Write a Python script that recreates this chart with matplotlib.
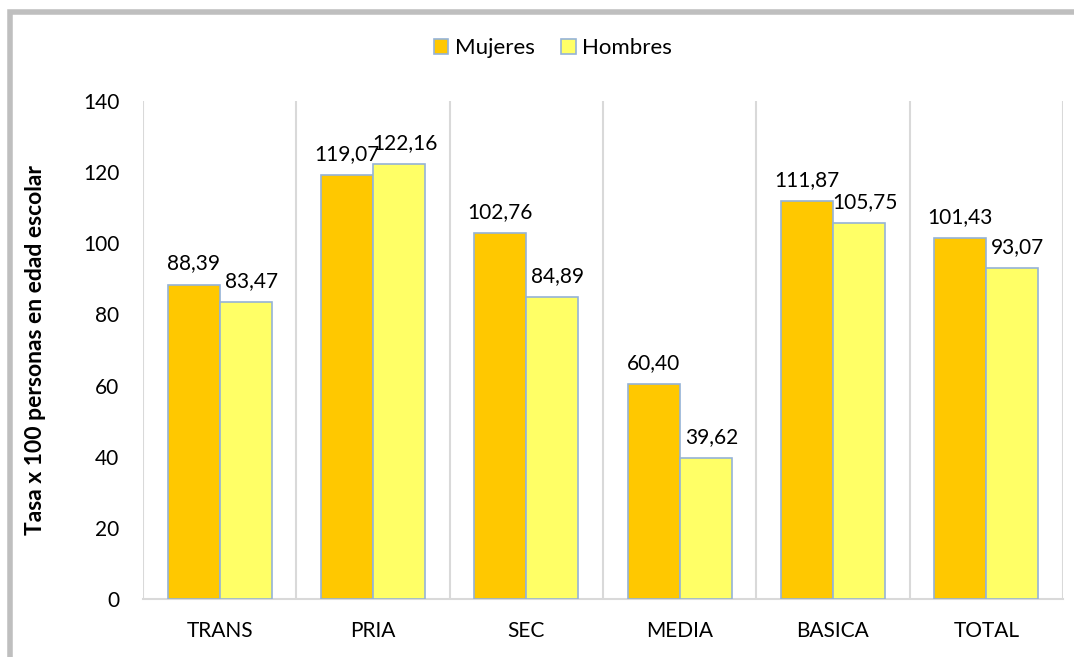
import matplotlib
matplotlib.use("Agg")
import matplotlib.pyplot as plt
import numpy as np
from matplotlib.patches import Rectangle

categories = ["TRANS", "PRIA", "SEC", "MEDIA", "BASICA", "TOTAL"]
mujeres = [88.39, 119.07, 102.76, 60.40, 111.87, 101.43]
hombres = [83.47, 122.16, 84.89, 39.62, 105.75, 93.07]
series_names = ["Mujeres", "Hombres"]
yticks = [0, 20, 40, 60, 80, 100, 120, 140]

plt.rcParams['font.family'] = ['Lato', 'DejaVu Sans']
fs = 15

fig = plt.figure(figsize=(10.74, 6.57), dpi=100)
ax = fig.add_axes([143/1074, 1-599/657, (1063-143)/1074, (599-101)/657])

x = np.arange(len(categories))
w = 0.34
edge = "#95B3D7"
c1 = "#FFC800"
c2 = "#FFFF66"
b1 = ax.bar(x - w/2, mujeres, w, color=c1, edgecolor=edge, linewidth=1.2, label=series_names[0], zorder=3)
b2 = ax.bar(x + w/2, hombres, w, color=c2, edgecolor=edge, linewidth=1.2, label=series_names[1], zorder=3)

for bars, vals, dx in ((b1, mujeres, 0), (b2, hombres, 4)):
    for r, v in zip(bars, vals):
        ax.annotate(f"{v:.2f}".replace(".", ","), (r.get_x() + r.get_width()/2, v),
                    xytext=(dx, 8), textcoords="offset points", ha="center", va="bottom",
                    fontsize=fs, color="#000000")

ax.set_xlim(-0.5, len(categories) - 0.5)
ax.set_ylim(0, 140)
ax.set_yticks(yticks)
ax.set_yticklabels([str(t) for t in yticks], fontsize=fs)
ax.set_xticks(x)
ax.set_xticklabels(categories, fontsize=fs)
ax.tick_params(axis="both", length=0)
ax.tick_params(axis="y", pad=17)
ax.tick_params(axis="x", pad=16)

for b in np.arange(-0.5, len(categories) + 0.5, 1):
    ax.axvline(b, color="#D9D9D9", linewidth=1.5, zorder=1)
for s in ["top", "right", "left"]:
    ax.spines[s].set_visible(False)
ax.spines["bottom"].set_color("#D9D9D9")
ax.spines["bottom"].set_linewidth(1.5)

ax.set_ylabel("Tasa x 100 personas en edad escolar", fontsize=16.5, fontweight="bold")
ax.yaxis.set_label_coords(-0.105, 0.5)

leg = fig.legend(handles=[b1, b2], labels=series_names, loc="center", bbox_to_anchor=(553/1074, 1-48/657),
                 ncol=2, frameon=False, fontsize=16, handlelength=0.65, handleheight=0.65,
                 handletextpad=0.3, columnspacing=1.2)

fig.patches.append(Rectangle((9.5/1074, -0.1), 1.2, 1 - 11.5/657 + 0.1, transform=fig.transFigure,
                             fill=False, edgecolor="#BFBFBF", linewidth=4, zorder=0))

fig.savefig("out.png", dpi=100)
